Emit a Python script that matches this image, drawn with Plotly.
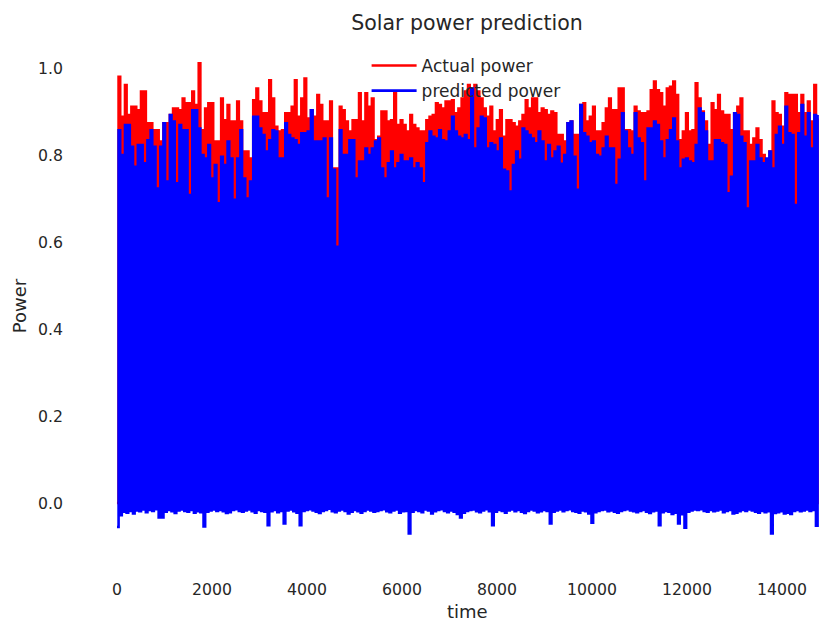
import plotly.graph_objects as go

# ---- values (one entry per daily cycle of the series) ----
# daily peak of the actual power
actual_peak = [
    0.980, 0.888, 0.961, 0.892, 0.911, 0.911, 0.903, 0.946, 0.946, 0.873,
    0.873, 0.857, 0.857, 0.831, 0.873, 0.873, 0.892, 0.907, 0.907, 0.903,
    0.930, 0.919, 0.919, 0.946, 0.915, 1.011, 0.857, 0.907, 0.919, 0.919,
    0.831, 0.831, 0.930, 0.880, 0.915, 0.877, 0.877, 0.923, 0.877, 0.808,
    0.808, 0.792, 0.926, 0.953, 0.923, 0.896, 0.896, 0.972, 0.930, 0.865,
    0.854, 0.857, 0.896, 0.896, 0.911, 0.972, 0.888, 0.930, 0.976, 0.884,
    0.903, 0.888, 0.938, 0.915, 0.877, 0.877, 0.923, 0.769, 0.769, 0.911,
    # ---
    0.903, 0.877, 0.854, 0.880, 0.880, 0.942, 0.877, 0.942, 0.911, 0.930,
    0.834, 0.842, 0.900, 0.900, 0.877, 0.880, 0.946, 0.869, 0.880, 0.869,
    0.854, 0.892, 0.869, 0.861, 0.854, 0.854, 0.880, 0.888, 0.892, 0.919,
    0.915, 0.907, 0.923, 0.923, 0.926, 0.896, 0.907, 0.930, 0.946, 0.961,
    0.946, 0.961, 0.946, 0.930, 0.907, 0.888, 0.911, 0.854, 0.880, 0.903,
    0.842, 0.880, 0.880, 0.873, 0.865, 0.877, 0.892, 0.926, 0.907, 0.930,
    0.930, 0.896, 0.907, 0.903, 0.892, 0.900, 0.896, 0.846, 0.846, 0.831,
    0.873, 0.877, 0.846, 0.846, 0.915,
    # ---
    0.919, 0.877, 0.888, 0.911, 0.854, 0.854, 0.873, 0.907, 0.930, 0.903,
    0.903, 0.953, 0.953, 0.857, 0.857, 0.854, 0.911, 0.900, 0.896, 0.896,
    0.900, 0.949, 0.969, 0.949, 0.942, 0.911, 0.953, 0.957, 0.969, 0.938,
    0.834, 0.854, 0.896, 0.854, 0.857, 0.965, 0.930, 0.900, 0.877, 0.823,
    0.919, 0.903, 0.938, 0.900, 0.892, 0.892, 0.857, 0.896, 0.911, 0.930,
    0.854, 0.854, 0.823, 0.838, 0.861, 0.834, 0.800, 0.785, 0.808, 0.923,
    0.896, 0.892, 0.865, 0.942, 0.938, 0.938, 0.938, 0.896, 0.938, 0.896,
    0.923, 0.877, 0.961, 0.884,
]

# daily peak of the predicted power
predicted_peak = [
    0.857, 0.800, 0.869, 0.869, 0.819, 0.773, 0.823, 0.823, 0.781, 0.834,
    0.857, 0.819, 0.723, 0.819, 0.873, 0.739, 0.892, 0.877, 0.735, 0.869,
    0.857, 0.857, 0.708, 0.903, 0.903, 0.861, 0.800, 0.792, 0.823, 0.746,
    0.777, 0.689, 0.796, 0.777, 0.831, 0.792, 0.697, 0.792, 0.857, 0.746,
    0.700, 0.739, 0.888, 0.888, 0.861, 0.846, 0.808, 0.834, 0.857, 0.854,
    0.792, 0.792, 0.873, 0.846, 0.838, 0.834, 0.823, 0.850, 0.850, 0.854,
    0.903, 0.831, 0.831, 0.831, 0.838, 0.700, 0.838, 0.766, 0.589, 0.857,
    # ---
    0.800, 0.800, 0.834, 0.834, 0.746, 0.785, 0.785, 0.815, 0.800, 0.815,
    0.831, 0.838, 0.769, 0.746, 0.781, 0.808, 0.769, 0.781, 0.800, 0.785,
    0.785, 0.792, 0.769, 0.781, 0.769, 0.735, 0.827, 0.854, 0.842, 0.838,
    0.857, 0.834, 0.831, 0.854, 0.888, 0.854, 0.842, 0.838, 0.846, 0.834,
    0.953, 0.815, 0.861, 0.888, 0.884, 0.815, 0.827, 0.823, 0.808, 0.838,
    0.766, 0.762, 0.716, 0.777, 0.808, 0.789, 0.861, 0.854, 0.846, 0.838,
    0.827, 0.854, 0.831, 0.785, 0.823, 0.792, 0.808, 0.819, 0.780, 0.800,
    0.873, 0.877, 0.796, 0.720, 0.915,
    # ---
    0.850, 0.842, 0.827, 0.831, 0.800, 0.796, 0.815, 0.842, 0.815, 0.815,
    0.731, 0.789, 0.896, 0.854, 0.815, 0.800, 0.896, 0.838, 0.827, 0.739,
    0.861, 0.861, 0.877, 0.869, 0.831, 0.792, 0.834, 0.857, 0.884, 0.831,
    0.769, 0.789, 0.792, 0.785, 0.781, 0.823, 0.907, 0.896, 0.854, 0.785,
    0.785, 0.834, 0.834, 0.827, 0.823, 0.712, 0.750, 0.896, 0.892, 0.842,
    0.827, 0.677, 0.785, 0.785, 0.823, 0.792, 0.781, 0.792, 0.808, 0.769,
    0.846, 0.865, 0.823, 0.911, 0.850, 0.846, 0.685, 0.850, 0.915, 0.842,
    0.896, 0.815, 0.892, 0.892,
]

# night-time (trough) value of the predicted power, slightly negative
predicted_night = [
    -0.055, -0.028, -0.020, -0.022, -0.018, -0.024, -0.017, -0.019, -0.015, -0.021,
    -0.016, -0.018, -0.014, -0.033, -0.033, -0.020, -0.016, -0.019, -0.023, -0.017,
    -0.015, -0.018, -0.020, -0.016, -0.022, -0.019, -0.021, -0.054, -0.020, -0.017,
    -0.015, -0.018, -0.016, -0.019, -0.023, -0.021, -0.016, -0.014, -0.018, -0.020,
    -0.017, -0.015, -0.019, -0.022, -0.016, -0.018, -0.020, -0.051, -0.019, -0.016,
    -0.021, -0.018, -0.047, -0.017, -0.015, -0.019, -0.022, -0.051, -0.018, -0.016,
    -0.014, -0.017, -0.020, -0.023, -0.018, -0.016, -0.013, -0.019, -0.021, -0.017,
    -0.015, -0.018, -0.024, -0.020, -0.016, -0.019, -0.022, -0.018, -0.015, -0.017,
    -0.020, -0.018, -0.016, -0.014, -0.019, -0.021, -0.017, -0.015, -0.022, -0.019,
    -0.018, -0.070, -0.020, -0.016, -0.018, -0.021, -0.015, -0.017, -0.024, -0.019,
    -0.016, -0.014, -0.018, -0.021, -0.017, -0.020, -0.025, -0.033, -0.022, -0.018,
    -0.016, -0.015, -0.019, -0.021, -0.017, -0.014, -0.019, -0.051, -0.020, -0.016,
    -0.018, -0.022, -0.017, -0.015, -0.019, -0.016, -0.020, -0.023, -0.018, -0.015,
    -0.017, -0.021, -0.019, -0.016, -0.018, -0.047, -0.020, -0.017, -0.015, -0.019,
    -0.016, -0.014, -0.018, -0.020, -0.022, -0.017, -0.019, -0.024, -0.045, -0.021,
    -0.018, -0.016, -0.015, -0.019, -0.017, -0.020, -0.022, -0.018, -0.016, -0.014,
    -0.017, -0.019, -0.021, -0.018, -0.016, -0.020, -0.023, -0.019, -0.017, -0.051,
    -0.021, -0.018, -0.020, -0.025, -0.022, -0.047, -0.026, -0.057, -0.020, -0.017,
    -0.015, -0.016, -0.014, -0.018, -0.020, -0.016, -0.019, -0.017, -0.015, -0.021,
    -0.018, -0.016, -0.024, -0.022, -0.019, -0.016, -0.018, -0.015, -0.017, -0.020,
    -0.022, -0.018, -0.021, -0.019, -0.070, -0.023, -0.021, -0.019, -0.024, -0.022,
    -0.025, -0.018, -0.016, -0.019, -0.017, -0.015, -0.018, -0.016, -0.052,
]

actual_night = 0.0          # measured power at night
cycle_length = 67.5         # time steps per cycle of the series

x_ticks = [0, 2000, 4000, 6000, 8000, 10000, 12000, 14000]
x_tick_text = ["0", "2000", "4000", "6000", "8000", "10000", "12000", "14000"]
y_ticks = [0.0, 0.2, 0.4, 0.6, 0.8, 1.0]
y_tick_text = ["0.0", "0.2", "0.4", "0.6", "0.8", "1.0"]

# ---- build the time series (night trough, day peak) ----
time, actual, predicted = [], [], []
for k, (a, p, n) in enumerate(zip(actual_peak, predicted_peak, predicted_night)):
    t0 = k * cycle_length
    time += [t0, t0 + cycle_length / 2]
    actual += [actual_night, a]
    predicted += [n, p]

TEXT = "#262626"
FONT = "DejaVu Sans"

fig = go.Figure()
fig.add_trace(go.Scatter(x=time, y=actual, mode="lines", name="Actual power",
                         line=dict(color="#ff0000", width=2.6, shape="hv"), legendgroup="a"))
fig.add_trace(go.Scatter(x=time, y=predicted, mode="lines", name="predicted power",
                         line=dict(color="#0000ff", width=2.6, shape="hv"), legendgroup="p"))

fig.update_layout(
    width=819, height=621,
    margin=dict(l=70, r=0, t=40, b=49),
    paper_bgcolor="white", plot_bgcolor="white",
    font=dict(family=FONT, color=TEXT, size=16),
    title=dict(text="Solar power prediction", x=467 / 819, xref="container", xanchor="center",
               y=1 - 23 / 621, yref="container", yanchor="middle",
               font=dict(size=20.5, color=TEXT, family=FONT)),
    showlegend=True,
    legend=dict(x=0.396, y=0.985, xanchor="left", yanchor="top",
                bgcolor="rgba(0,0,0,0)", borderwidth=0,
                font=dict(size=17, color=TEXT, family=FONT),
                tracegroupgap=0, itemwidth=45),
    xaxis=dict(range=[-989, 14779], tickvals=x_ticks, ticktext=x_tick_text,
               showgrid=False, zeroline=False,
               showline=False, ticks="", tickfont=dict(size=15.7, color=TEXT),
               ticklabelstandoff=6),
    yaxis=dict(range=[-0.1586, 1.0644], tickvals=y_ticks, ticktext=y_tick_text,
               showgrid=False, zeroline=False, showline=False, ticks="",
               tickfont=dict(size=15.7, color=TEXT), ticklabelstandoff=6,
               title=dict(text="Power", font=dict(size=18, color=TEXT), standoff=6)),
    annotations=[dict(text="time", xref="paper", yref="paper", x=(467 - 70) / 749,
                      y=-(611 - 572) / 532, xanchor="center", yanchor="middle",
                      showarrow=False, font=dict(size=18, color=TEXT, family=FONT))],
)

fig.write_html("out.html")
